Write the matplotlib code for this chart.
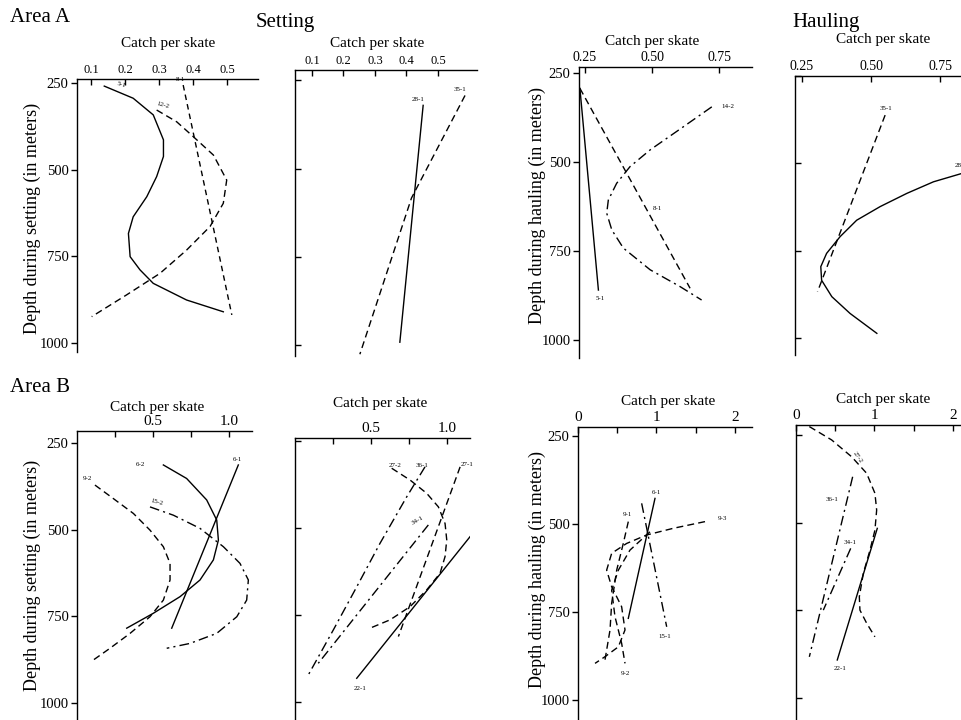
import matplotlib
matplotlib.use("Agg")
import matplotlib.pyplot as plt

W, H = 962, 720
plt.rcParams['font.family'] = ['Liberation Serif', 'DejaVu Serif']

# ---------------- DATA ----------------
# Area A, setting (left panel)
aS_5_1_catch = [0.139, 0.224, 0.283, 0.313, 0.313, 0.293, 0.264, 0.224, 0.210, 0.215, 0.244, 0.283, 0.381, 0.489]
aS_5_1_depth = [259, 294, 342, 414, 462, 520, 578, 636, 684, 751, 789, 828, 876, 910]
aS_12_2_catch = [0.293, 0.352, 0.401, 0.460, 0.499, 0.489, 0.450, 0.381, 0.303, 0.205, 0.102]
aS_12_2_depth = [328, 362, 405, 458, 530, 597, 664, 732, 799, 861, 924]
aS_8_1_catch = [0.371, 0.514]
aS_8_1_depth = [256, 919]
# Area A, setting (right panel)
aS_28_1_catch = [0.453, 0.379]
aS_28_1_depth = [321, 991]
aS_35_1_catch = [0.586, 0.416, 0.252]
aS_35_1_depth = [293, 583, 1025]
# Area A, hauling (left panel)
aH_5_1_catch = [0.231, 0.300]
aH_5_1_depth = [293, 860]
aH_8_1_catch = [0.231, 0.642]
aH_8_1_depth = [293, 855]
aH_14_2_catch = [0.723, 0.617, 0.493, 0.418, 0.368, 0.337, 0.331, 0.350, 0.393, 0.493, 0.604, 0.685]
aH_14_2_depth = [345, 401, 466, 513, 560, 607, 644, 691, 742, 803, 850, 888]
# Area A, hauling (right panel)
aH_35_1_catch = [0.551, 0.306]
aH_35_1_depth = [362, 868]
aH_28_1_catch = [0.87, 0.829, 0.726, 0.630, 0.533, 0.448, 0.388, 0.339, 0.318, 0.321, 0.358, 0.424, 0.521]
aH_28_1_depth = [518, 529, 553, 586, 624, 663, 710, 758, 796, 835, 882, 930, 987]
# Area B, setting (left panel)
bS_6_2_catch = [0.568, 0.721, 0.853, 0.919, 0.930, 0.897, 0.809, 0.678, 0.502, 0.327]
bS_6_2_depth = [313, 352, 414, 472, 530, 587, 645, 693, 741, 784]
bS_6_1_catch = [1.061, 0.623]
bS_6_1_depth = [313, 784]
bS_9_2_catch = [0.118, 0.239, 0.371, 0.480, 0.568, 0.612, 0.612, 0.568, 0.480, 0.349, 0.217, 0.107]
bS_9_2_depth = [371, 410, 453, 501, 549, 597, 645, 703, 751, 799, 842, 876]
bS_15_2_catch = [0.480, 0.634, 0.809, 0.963, 1.072, 1.127, 1.116, 1.051, 0.919, 0.743, 0.590]
bS_15_2_depth = [434, 458, 496, 549, 597, 645, 703, 751, 799, 828, 842]
# Area B, setting (right panel)
bS_27_2_catch = [0.636, 0.757, 0.866, 0.943, 0.987, 0.998, 0.987, 0.954, 0.866, 0.757, 0.625, 0.493]
bS_27_2_depth = [328, 362, 400, 439, 487, 534, 582, 630, 678, 726, 764, 788]
bS_36_1_catch = [0.855, 0.735, 0.559, 0.406, 0.252, 0.088]
bS_36_1_depth = [324, 410, 544, 669, 793, 922]
bS_34_1_catch = [0.877, 0.153]
bS_34_1_depth = [491, 889]
bS_27_1_catch = [1.086, 0.680]
bS_27_1_depth = [324, 812]
bS_22_1_catch = [1.151, 0.406]
bS_22_1_depth = [525, 932]
# Area B, hauling (left panel)
bH_6_1_catch = [0.981, 0.641]
bH_6_1_depth = [427, 768]
bH_15_1_catch = [0.811, 1.130]
bH_15_1_depth = [441, 792]
bH_9_3_catch = [1.618, 1.214, 0.875, 0.620, 0.429, 0.365, 0.429, 0.556, 0.599, 0.514, 0.344, 0.217]
bH_9_3_depth = [493, 512, 531, 555, 583, 631, 678, 735, 801, 849, 877, 896]
bH_9_1_catch = [0.641, 0.577, 0.493, 0.429, 0.408, 0.344]
bH_9_1_depth = [493, 555, 631, 725, 801, 886]
bH_9_2_catch = [0.917, 0.662, 0.514, 0.429, 0.471, 0.556, 0.599]
bH_9_2_depth = [522, 574, 631, 688, 763, 839, 896]
# Area B, hauling (right panel)
bH_27_2_catch = [0.170, 0.454, 0.709, 0.900, 1.006, 1.028, 1.006, 0.943, 0.858, 0.807, 0.815, 0.900, 1.006]
bH_27_2_depth = [226, 264, 312, 359, 416, 464, 521, 578, 644, 711, 749, 786, 825]
bH_36_1_catch = [0.722, 0.170]
bH_36_1_depth = [369, 882]
bH_34_1_catch = [0.697, 0.348]
bH_34_1_depth = [573, 749]
bH_22_1_catch = [1.036, 0.526]
bH_22_1_depth = [516, 891]

depth_ticks = [250, 500, 750, 1000]
depth_labels = ['250', '500', '750', '1000']

# ---------------- FIGURE ----------------
fig = plt.figure(figsize=(W / 100, H / 100), dpi=100)

SOLID = '-'
DASH = (0, (5, 3))
SDASH = (0, (4, 3))
DDOT = (0, (7, 3, 1.5, 3))
LW = 1.0


def px_axes(l, t, r, b):
    return fig.add_axes([l / W, 1 - b / H, (r - l) / W, (b - t) / H])


def setup(ax, xlim, ylim, xt, xtl, xminor, ylab, xfs):
    ax.set_xlim(xlim)
    ax.set_ylim(ylim)
    ax.patch.set_alpha(0)
    for s in ('right', 'bottom'):
        ax.spines[s].set_visible(False)
    for s in ('left', 'top'):
        ax.spines[s].set_linewidth(1.0)
    ax.xaxis.tick_top()
    ax.set_xticks(xt)
    ax.set_xticklabels(xtl)
    if xminor:
        ax.set_xticks(xminor, minor=True)
    ax.tick_params(axis='x', which='both', direction='in', length=4, width=1,
                   labelsize=xfs, pad=2)
    ax.set_yticks(depth_ticks)
    if ylab:
        ax.set_yticklabels(depth_labels)
        ax.tick_params(axis='y', direction='out', length=4, width=1, labelsize=10.5, pad=2)
    else:
        ax.set_yticklabels([])
        ax.tick_params(axis='y', direction='in', length=4, width=1)


def line(ax, c, d, ls):
    ax.plot(c, d, color='black', lw=LW, linestyle=ls, clip_on=True)


def tag(ax, x, y, s, rot=0, ha='center'):
    ax.text(x, y, s, fontsize=5, ha=ha, va='center', rotation=rot, clip_on=False)


# --- Area A, setting left
ax = px_axes(77, 79, 258, 352)
setup(ax, (0.0588, 0.591), (1026, 238.5), [0.1, 0.2, 0.3, 0.4, 0.5],
      ['0.1', '0.2', '0.3', '0.4', '0.5'], None, True, 9)
line(ax, aS_5_1_catch, aS_5_1_depth, SOLID)
line(ax, aS_12_2_catch, aS_12_2_depth, DASH)
line(ax, aS_8_1_catch, aS_8_1_depth, SDASH)
tag(ax, 0.191, 256, '5-1', -15)
tag(ax, 0.312, 313, '12-2', -15)
tag(ax, 0.362, 241, '8-1')

# --- Area A, setting right
ax = px_axes(295, 70, 477, 356)
setup(ax, (0.046, 0.624), (1030, 221), [0.1, 0.2, 0.3, 0.4, 0.5],
      ['0.1', '0.2', '0.3', '0.4', '0.5'], None, False, 9)
line(ax, aS_28_1_catch, aS_28_1_depth, SOLID)
line(ax, aS_35_1_catch, aS_35_1_depth, DASH)
tag(ax, 0.437, 304, '28-1')
tag(ax, 0.570, 276, '35-1')

# --- Area A, hauling left
ax = px_axes(579, 67, 752, 358)
setup(ax, (0.2276, 0.873), (1051, 233), [0.25, 0.5, 0.75],
      ['0.25', '0.50', '0.75'], None, True, 10)
line(ax, aH_5_1_catch, aH_5_1_depth, SOLID)
line(ax, aH_8_1_catch, aH_8_1_depth, DASH)
line(ax, aH_14_2_catch, aH_14_2_depth, DDOT)
tag(ax, 0.306, 885, '5-1')
tag(ax, 0.522, 632, '8-1')
tag(ax, 0.784, 345, '14-2')

# --- Area A, hauling right
ax = px_axes(795, 76, 1000, 355)
setup(ax, (0.2246, 0.967), (1049, 250), [0.25, 0.5, 0.75],
      ['0.25', '0.50', '0.75'], None, False, 10)
line(ax, aH_35_1_catch, aH_35_1_depth, DASH)
line(ax, aH_28_1_catch, aH_28_1_depth, SOLID)
tag(ax, 0.554, 342, '35-1')
tag(ax, 0.804, 505, '28-1', ha='left')

# --- Area B, setting left
ax = px_axes(77, 431, 252, 720)
setup(ax, (0.0, 1.151), (1049, 215), [0.5, 1.0], ['0.5', '1.0'], [0.25, 0.75], True, 11)
line(ax, bS_6_2_catch, bS_6_2_depth, SOLID)
line(ax, bS_6_1_catch, bS_6_1_depth, SOLID)
line(ax, bS_9_2_catch, bS_9_2_depth, DASH)
line(ax, bS_15_2_catch, bS_15_2_depth, DDOT)
tag(ax, 0.414, 313, '6-2')
tag(ax, 1.053, 296, '6-1')
tag(ax, 0.066, 351, '9-2')
tag(ax, 0.526, 420, '15-2', -15)

# --- Area B, setting right
ax = px_axes(295, 438, 470, 720)
setup(ax, (0.0, 1.151), (1052, 241), [0.5, 1.0], ['0.5', '1.0'], [0.25, 0.75], False, 11)
line(ax, bS_27_2_catch, bS_27_2_depth, DASH)
line(ax, bS_36_1_catch, bS_36_1_depth, DDOT)
line(ax, bS_34_1_catch, bS_34_1_depth, DDOT)
line(ax, bS_27_1_catch, bS_27_1_depth, DASH)
line(ax, bS_22_1_catch, bS_22_1_depth, SOLID)
tag(ax, 0.658, 319, '27-2')
tag(ax, 0.836, 319, '36-1')
tag(ax, 1.132, 316, '27-1')
tag(ax, 0.809, 477, '34-1', 30)
tag(ax, 0.428, 960, '22-1')

# --- Area B, hauling left
ax = px_axes(578, 427, 752, 720)
setup(ax, (0.0, 2.217), (1057, 224), [0, 1, 2], ['0', '1', '2'], [0.5, 1.5], True, 11)
line(ax, bH_6_1_catch, bH_6_1_depth, SOLID)
line(ax, bH_15_1_catch, bH_15_1_depth, DDOT)
line(ax, bH_9_3_catch, bH_9_3_depth, DASH)
line(ax, bH_9_1_catch, bH_9_1_depth, DASH)
line(ax, bH_9_2_catch, bH_9_2_depth, DASH)
tag(ax, 0.994, 409, '6-1')
tag(ax, 0.624, 474, '9-1')
tag(ax, 1.834, 483, '9-3')
tag(ax, 1.108, 821, '15-1')
tag(ax, 0.599, 926, '9-2')

# --- Area B, hauling right
ax = px_axes(796, 425, 1000, 720)
setup(ax, (0.0, 2.6), (1062, 221.5), [0, 1, 2], ['0', '1', '2'], [0.5, 1.5], False, 11)
line(ax, bH_27_2_catch, bH_27_2_depth, DASH)
line(ax, bH_36_1_catch, bH_36_1_depth, DDOT)
line(ax, bH_34_1_catch, bH_34_1_depth, DDOT)
line(ax, bH_22_1_catch, bH_22_1_depth, SOLID)
tag(ax, 0.79, 313, '27-2', -55)
tag(ax, 0.459, 435, '36-1')
tag(ax, 0.688, 555, '34-1')
tag(ax, 0.561, 914, '22-1')

# ---------------- TEXT ----------------
def ftext(x, y, s, size, rot=0, ha='center'):
    fig.text(x / W, 1 - y / H, s, fontsize=size, ha=ha, va='center', rotation=rot)

ftext(10, 17, 'Area A', 15, ha='left')
ftext(10, 388, 'Area B', 15, ha='left')
ftext(285, 23, 'Setting', 15)
ftext(826, 22, 'Hauling', 15)

for (x, y) in [(168, 44), (377, 43), (652, 42), (883, 40),
               (157, 408), (380, 403), (668, 402), (883, 400)]:
    ftext(x, y, 'Catch per skate', 11)

ftext(32, 218, 'Depth during setting (in meters)', 13, rot=90)
ftext(537, 205, 'Depth during hauling (in meters)', 13, rot=90)
ftext(32, 575, 'Depth during setting (in meters)', 13, rot=90)
ftext(537, 570, 'Depth during hauling (in meters)', 13, rot=90)

fig.savefig('out.png', dpi=100)
